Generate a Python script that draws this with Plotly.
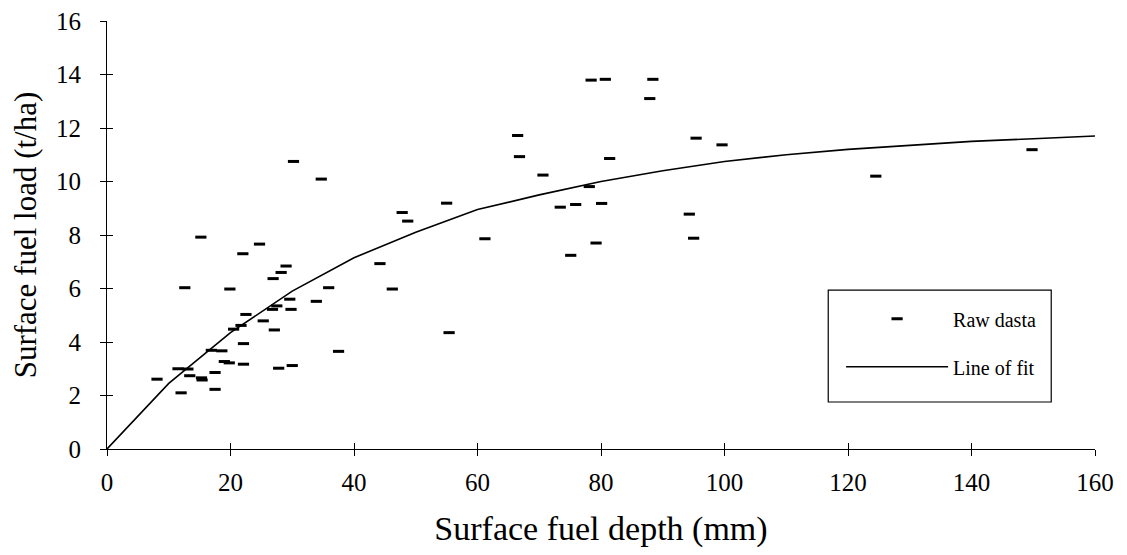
import plotly.graph_objects as go

# Raw data: surface fuel depth (mm) vs surface fuel load (t/ha)
depth_mm = [12.6, 19.9, 35.9, 22.5, 29.6, 33.9, 27.5, 26.8, 29.8, 25.3,
            21.7, 20.5, 27.1, 22.1, 16.9, 18.6, 37.5, 19.0, 19.8, 22.1,
            27.8, 30.0, 11.5, 13.1, 13.4, 15.3, 15.4, 17.5, 8.1, 12.0,
            17.5, 34.7, 15.2, 22.0, 24.7, 26.9, 28.2, 29.0, 30.2, 66.8,
            81.4, 70.6, 78.1, 55.0, 73.4, 75.9, 80.1, 47.8, 48.7, 61.2,
            79.2, 75.1, 44.2, 46.2, 55.4, 78.4, 80.7, 88.4, 87.9, 66.5,
            95.4, 99.6, 94.3, 95.0, 149.8, 124.5]
load_tha = [6.03, 5.98, 6.03, 5.03, 5.60, 5.52, 5.35, 5.22, 5.22, 4.79,
            4.62, 4.48, 4.45, 3.94, 3.69, 3.67, 3.65, 3.27, 3.22, 3.17,
            3.02, 3.12, 3.00, 2.99, 2.74, 2.66, 2.58, 2.86, 2.61, 2.10,
            2.23, 10.09, 7.92, 7.30, 7.66, 6.37, 6.60, 6.84, 10.75, 10.93,
            10.86, 10.24, 9.81, 9.19, 9.04, 9.14, 9.18, 8.84, 8.52, 7.86,
            7.70, 7.24, 6.93, 5.98, 4.35, 13.79, 13.82, 13.82, 13.10, 11.72,
            11.62, 11.37, 8.78, 7.88, 11.19, 10.20]

# Line of fit
fit_depth = [0, 10, 20, 30, 40, 50, 60, 70, 80, 90, 100, 110, 120, 130, 140, 150, 160]
fit_load = [0, 2.45, 4.35, 5.9, 7.15, 8.1, 8.95, 9.5, 10.0, 10.4, 10.75, 11.0, 11.2,
            11.35, 11.5, 11.6, 11.7]

x_ticks = [0, 20, 40, 60, 80, 100, 120, 140, 160]
y_ticks = [0, 2, 4, 6, 8, 10, 12, 14, 16]

SERIF = "Liberation Serif, Times New Roman, serif"

fig = go.Figure()
fig.add_trace(go.Scatter(
    x=depth_mm, y=load_tha, mode="markers", name="Raw dasta",
    marker=dict(symbol="line-ew", size=8, color="black",
                line=dict(color="black", width=3)),
    legendgroup="a",
))
fig.add_trace(go.Scatter(
    x=fit_depth, y=fit_load, mode="lines", name="Line of fit",
    line=dict(color="black", width=1.6),
    legendgroup="b",
))
# helper trace for overlay axes (crossing tick marks)
fig.add_trace(go.Scatter(x=[None], y=[None], xaxis="x2", yaxis="y2",
                         showlegend=False, hoverinfo="skip"))

axis_common = dict(showgrid=False, zeroline=False, color="black", automargin=False,
                   ticklabeloverflow="allow")
fig.update_layout(
    # the page body adds an 8px offset, so the figure is 8px smaller than the window
    width=1119, height=547,
    margin=dict(l=98.7, r=32, t=12.7, b=106),
    paper_bgcolor="white", plot_bgcolor="white",
    font=dict(family=SERIF, color="black", size=25),
    xaxis=dict(range=[0, 160], tickvals=x_ticks, showline=True, linecolor="black",
               linewidth=1.2, ticks="outside", ticklen=6, tickcolor="black",
               tickfont=dict(size=25), ticklabelstandoff=5,
               title=dict(text="Surface fuel depth (mm)", font=dict(size=34), standoff=21),
               **axis_common),
    yaxis=dict(range=[0, 16], tickvals=y_ticks, showline=True, linecolor="black",
               linewidth=1.2, ticks="outside", ticklen=6, tickcolor="black",
               tickfont=dict(size=25), ticklabelstandoff=14,
               title=dict(text="Surface fuel load (t/ha)", font=dict(size=31), standoff=28),
               **axis_common),
    xaxis2=dict(range=[0, 160], tickvals=x_ticks, overlaying="x", anchor="y2", side="bottom",
                ticks="inside", ticklen=6, tickcolor="black", showticklabels=False,
                showline=False, **axis_common),
    yaxis2=dict(range=[0, 16], tickvals=y_ticks, overlaying="y", anchor="x2", side="left",
                ticks="inside", ticklen=6, tickcolor="black", showticklabels=False,
                showline=False, **axis_common),
    legend=dict(x=0.743, y=0.350, xanchor="left", yanchor="top",
                bgcolor="rgba(0,0,0,0)", borderwidth=0,
                font=dict(size=20, family=SERIF), itemwidth=102,
                traceorder="grouped", tracegroupgap=19),
    shapes=[dict(type="rect", xref="paper", yref="paper",
                 x0=0.730, x1=0.9557, y0=0.1098, y1=0.3712,
                 line=dict(color="black", width=1.2), fillcolor="white", layer="above")],
    showlegend=True,
)

fig.write_html("out.html")
